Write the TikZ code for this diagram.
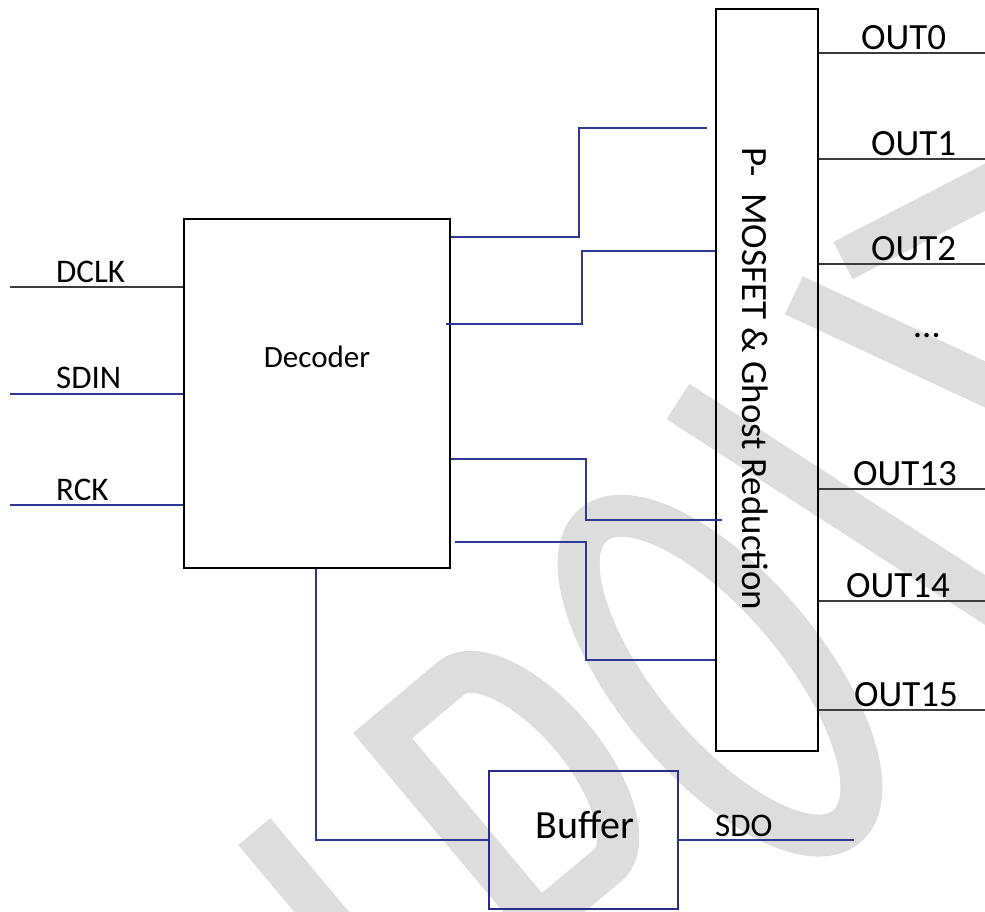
\documentclass[tikz,border=0pt]{standalone}
\usepackage{fontspec}
\setmainfont{Carlito}
\definecolor{clrwire}{RGB}{60,60,60}
\definecolor{clrbus}{RGB}{46,56,150}
\definecolor{clrbuf}{RGB}{38,46,135}
\definecolor{clrmark}{RGB}{221,221,221}

\begin{document}
\begin{tikzpicture}[
  x=1pt,y=-1pt,
  box/.style={draw=black,line width=2.2pt,inner sep=0pt},
  plain/.style={line width=1.4pt,clrwire},
  sigline/.style={line width=1.3pt,clrbus},
  lbl/.style={inner sep=0pt,font=\fontsize{33}{40}\selectfont},
  big/.style={inner sep=0pt,font=\fontsize{37}{44}\selectfont},
  wmark/.style={line width=42pt,draw=clrmark,line cap=butt}
]
\useasboundingbox (0,0) rectangle (985,911);
\fill[white] (0,0) rectangle (985,911);

% watermark
\begin{scope}
\clip (0,0) rectangle (985,911);
\begin{scope}[shift={(353,733)},rotate=40,wmark]
\draw (-139,12) -- (-139,520);
\draw[line join=miter] (21,520) -- (21,21) -- (110,21)
  arc[start angle=-90,end angle=90,x radius=55,y radius=122] -- (21,265);
\draw (318,192) ellipse[x radius=82,y radius=197];
\draw (462,-45) -- (667,620);
\draw (619,-52) -- (830,400);
\draw (679,-47) -- (950,14);
\end{scope}
\end{scope}

% blocks
\node[box,minimum width=266pt,minimum height=349pt] (dec) at (317,393.5) {};
\node[lbl,font=\fontsize{31}{37}\selectfont,anchor=base] (declbl) at (317,367) {Decoder};
\node[box,minimum width=102pt,minimum height=742pt] (drv) at (767,380) {};
\node[big,rotate=-90,anchor=base west] (drvlbl) at (742,147) {P-\ \ MOSFET \& Ghost Reduction};
\node[box,draw=clrbuf,line width=2.5pt,minimum width=189pt,minimum height=138pt] (buf) at (583.5,840) {};
\node[lbl,font=\fontsize{40}{48}\selectfont,anchor=base] (buflbl) at (585,838) {Buffer};

% inputs
\coordinate (dclk) at (10,287);
\coordinate (sdin) at (10,394);
\coordinate (rck) at (10,505);
\draw[plain] (dclk) -- (dec.west |- dclk);
\draw[sigline] (sdin) -- (dec.west |- sdin);
\draw[sigline] (rck) -- (dec.west |- rck);
\node[lbl,anchor=base west] (dclklbl) at (56,282) {DCLK};
\node[lbl,anchor=base west] (sdinlbl) at (56,388) {SDIN};
\node[lbl,anchor=base west] (rcklbl) at (56,500) {RCK};

% decoder to driver
\draw[sigline] (dec.east |- 0,237) -| (579,128) -- (707,128);
\draw[sigline] (446,324) -| (582,251) -- (drv.west |- 0,251);
\draw[sigline] (dec.east |- 0,459) -| (586,520) -- (722,520);
\draw[sigline] (455,542) -| (586,660) -- (drv.west |- 0,660);

% outputs
\foreach \nm/\yy/\xx in {OUT0/53/861,OUT1/159/871,OUT2/264/871,OUT13/489/853,OUT14/601/846,OUT15/710/854} {
  \coordinate (o\nm) at (985,\yy);
  \draw[plain] (drv.east |- o\nm) -- (o\nm);
  \node[big,anchor=base west] at (\xx,\yy-3.5) {\nm};
}
\node[big,anchor=base] (dots) at (927,337) {…};

% serial out
\draw[sigline] (dec.south -| 316,0) |- (buf.west);
\coordinate (sdo) at (854,840);
\draw[sigline] (buf.east) -- (sdo);
\node[lbl,anchor=base west] (sdolbl) at (715,836) {SDO};
\end{tikzpicture}
\end{document}
